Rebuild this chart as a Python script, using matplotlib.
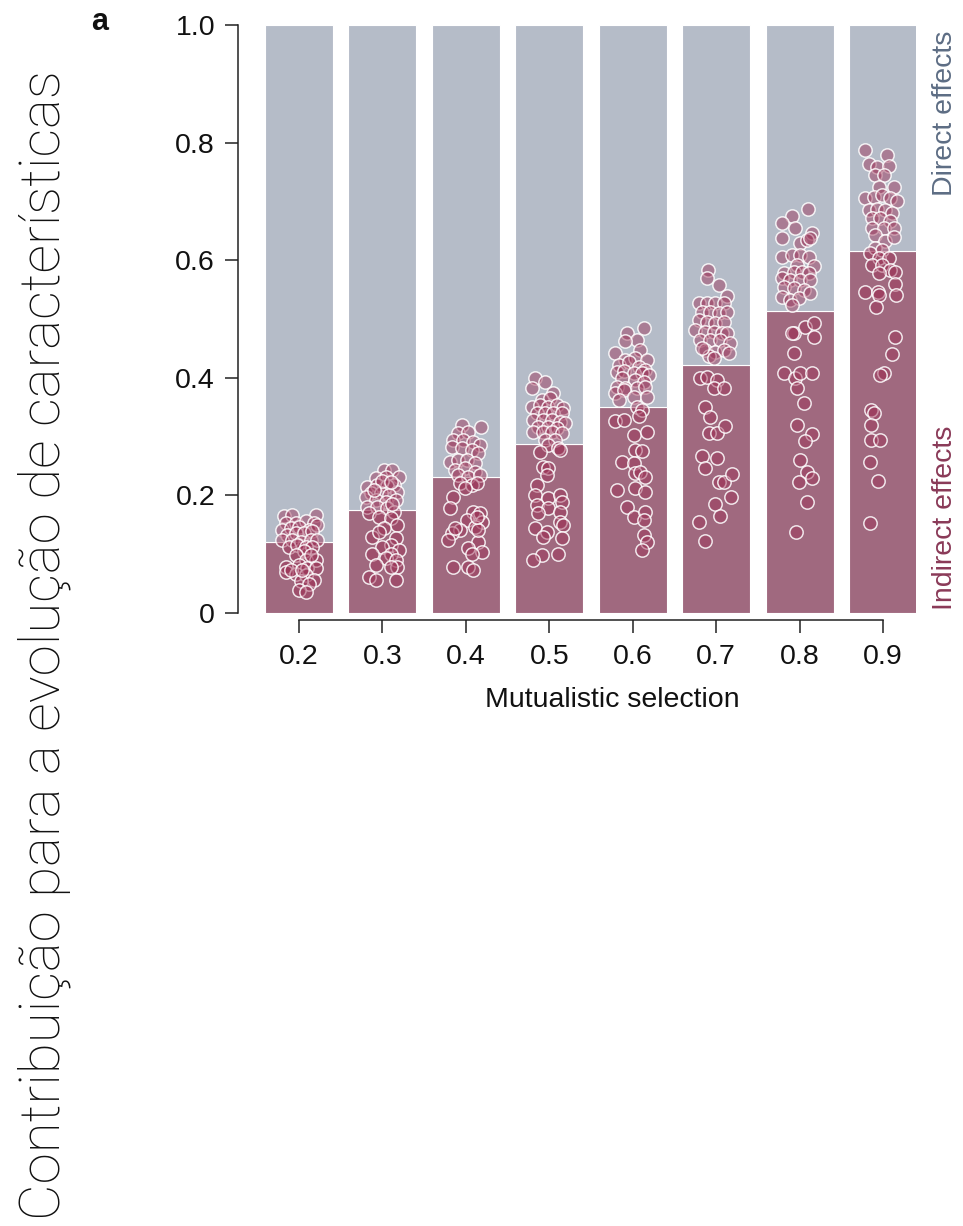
import numpy as np
import matplotlib
matplotlib.use("Agg")
import matplotlib.pyplot as plt
from matplotlib.colors import to_rgba

# Mutualistic selection strength and mean share of trait change due to indirect effects
selection = [0.2, 0.3, 0.4, 0.5, 0.6, 0.7, 0.8, 0.9]
tick_labels = ["0.2", "0.3", "0.4", "0.5", "0.6", "0.7", "0.8", "0.9"]
indirect_share = [0.121, 0.175, 0.231, 0.287, 0.350, 0.422, 0.513, 0.616]
y_ticks = [0, 0.2, 0.4, 0.6, 0.8, 1.0]
y_tick_labels = ["0", "0.2", "0.4", "0.6", "0.8", "1.0"]

# Individual network values (indirect share) and horizontal jitter per selection level
val_02 = [0.165, 0.166, 0.166, 0.153, 0.153, 0.157, 0.153, 0.142, 0.144, 0.147, 0.142, 0.150,
          0.133, 0.136, 0.136, 0.139, 0.124, 0.124, 0.121, 0.124, 0.124, 0.113, 0.116, 0.113,
          0.113, 0.106, 0.099, 0.090, 0.090, 0.079, 0.070, 0.082, 0.076, 0.076, 0.067, 0.065,
          0.056, 0.054, 0.050, 0.039, 0.036, 0.073, 0.099, 0.073]
jit_02 = [-0.018, -0.008, 0.020, -0.016, -0.004, 0.008, 0.018, -0.020, -0.010, 0.000, 0.012, 0.022,
          -0.014, -0.004, 0.006, 0.016, -0.020, -0.008, 0.002, 0.014, 0.022, -0.012, -0.002, 0.008,
          0.016, 0.006, -0.004, 0.008, 0.020, -0.016, -0.016, 0.000, 0.010, 0.020, -0.004, 0.008,
          0.018, 0.002, 0.012, 0.000, 0.008, -0.010, 0.014, 0.004]

val_03 = [0.243, 0.243, 0.231, 0.229, 0.232, 0.218, 0.215, 0.218, 0.216, 0.206, 0.204, 0.204,
          0.201, 0.198, 0.192, 0.189, 0.192, 0.181, 0.181, 0.178, 0.172, 0.170, 0.164, 0.161,
          0.150, 0.144, 0.130, 0.138, 0.127, 0.116, 0.113, 0.107, 0.101, 0.101, 0.093, 0.090,
          0.079, 0.082, 0.062, 0.056, 0.056, 0.079, 0.225, 0.222, 0.210, 0.185]
jit_03 = [0.002, 0.012, 0.020, -0.008, 0.004, 0.014, -0.018, -0.006, 0.006, 0.018, -0.014, -0.002,
          0.008, -0.020, -0.008, 0.004, 0.016, -0.018, -0.006, 0.006, 0.014, -0.016, -0.004, 0.010,
          0.018, 0.002, -0.012, -0.004, 0.016, 0.010, 0.000, 0.020, -0.012, 0.010, 0.004, 0.016,
          0.018, -0.008, -0.016, -0.008, 0.016, 0.010, 0.000, 0.010, -0.010, 0.012]

val_04 = [0.320, 0.317, 0.306, 0.308, 0.294, 0.294, 0.291, 0.286, 0.282, 0.280, 0.277, 0.272,
          0.256, 0.260, 0.260, 0.255, 0.243, 0.246, 0.240, 0.235, 0.232, 0.235, 0.221, 0.218,
          0.221, 0.212, 0.198, 0.178, 0.172, 0.170, 0.158, 0.155, 0.147, 0.141, 0.136, 0.124,
          0.121, 0.110, 0.104, 0.101, 0.078, 0.079, 0.073, 0.141, 0.144, 0.164]
jit_04 = [-0.005, 0.018, -0.009, 0.003, -0.015, -0.003, 0.009, 0.017, -0.017, -0.005, 0.007, 0.015,
          -0.019, -0.009, 0.001, 0.011, -0.013, -0.001, 0.011, -0.009, 0.003, 0.017, -0.007, 0.007,
          0.013, -0.001, -0.015, -0.019, 0.009, 0.017, 0.001, 0.019, 0.011, -0.007, -0.017, -0.021,
          0.015, 0.003, 0.019, 0.007, -0.015, 0.003, 0.009, 0.015, -0.013, 0.013]

val_05 = [0.399, 0.393, 0.382, 0.374, 0.362, 0.365, 0.351, 0.354, 0.351, 0.354, 0.348, 0.340,
          0.340, 0.340, 0.340, 0.328, 0.328, 0.328, 0.325, 0.323, 0.317, 0.317, 0.314, 0.308,
          0.308, 0.308, 0.306, 0.294, 0.294, 0.286, 0.280, 0.277, 0.274, 0.249, 0.246, 0.235,
          0.218, 0.201, 0.195, 0.201, 0.184, 0.178, 0.189, 0.170, 0.172, 0.155, 0.150, 0.144,
          0.138, 0.130, 0.127, 0.101, 0.099, 0.090]
jit_05 = [-0.017, -0.005, -0.021, 0.005, -0.009, 0.001, -0.021, -0.011, -0.001, 0.009, 0.017, -0.015,
          -0.005, 0.005, 0.015, -0.019, -0.007, 0.003, 0.013, 0.019, -0.013, -0.001, 0.009, -0.019,
          -0.007, 0.003, 0.015, -0.005, 0.007, -0.001, 0.011, 0.013, -0.011, -0.007, -0.001, -0.003,
          -0.015, -0.017, -0.001, 0.013, -0.015, -0.001, 0.015, -0.013, 0.013, 0.013, 0.017, -0.017,
          -0.003, -0.007, 0.015, 0.011, -0.009, -0.019]

val_06 = [0.484, 0.476, 0.465, 0.463, 0.448, 0.443, 0.430, 0.433, 0.430, 0.422, 0.427, 0.419,
          0.413, 0.410, 0.412, 0.408, 0.408, 0.405, 0.399, 0.396, 0.393, 0.385, 0.382, 0.382,
          0.385, 0.374, 0.379, 0.367, 0.367, 0.362, 0.351, 0.345, 0.335, 0.327, 0.329, 0.303,
          0.307, 0.278, 0.276, 0.257, 0.255, 0.238, 0.240, 0.232, 0.210, 0.212, 0.206, 0.181,
          0.164, 0.172, 0.158, 0.133, 0.121, 0.107]
jit_06 = [0.013, -0.007, 0.005, -0.009, 0.009, -0.021, -0.009, 0.003, 0.017, -0.017, -0.005, 0.007,
          0.015, -0.019, -0.011, 0.001, 0.011, 0.019, -0.013, 0.003, 0.013, -0.019, -0.009, 0.005,
          0.015, -0.021, -0.011, 0.001, 0.017, -0.017, 0.005, 0.011, 0.007, -0.021, -0.011, 0.001,
          0.017, 0.003, 0.011, -0.013, 0.001, 0.003, 0.009, 0.015, -0.019, 0.003, 0.015, -0.007,
          0.001, 0.015, 0.013, 0.013, 0.017, 0.011]

val_07 = [0.583, 0.569, 0.557, 0.539, 0.528, 0.528, 0.527, 0.527, 0.512, 0.512, 0.510, 0.512,
          0.498, 0.495, 0.493, 0.495, 0.481, 0.478, 0.478, 0.477, 0.476, 0.464, 0.464, 0.464,
          0.459, 0.447, 0.444, 0.447, 0.442, 0.437, 0.433, 0.450, 0.400, 0.402, 0.397, 0.382,
          0.382, 0.351, 0.334, 0.306, 0.306, 0.318, 0.267, 0.263, 0.247, 0.223, 0.223, 0.236,
          0.185, 0.197, 0.165, 0.154, 0.122]
jit_07 = [-0.010, -0.011, 0.003, 0.013, -0.021, -0.011, -0.001, 0.009, -0.017, -0.007, 0.003, 0.013,
          -0.021, -0.011, -0.001, 0.009, -0.025, -0.013, -0.003, 0.007, 0.013, -0.019, -0.007, 0.005,
          0.017, -0.013, -0.001, 0.009, 0.015, -0.009, -0.003, -0.017, -0.019, -0.011, 0.001, -0.003,
          0.010, -0.013, -0.007, -0.009, 0.001, 0.011, -0.017, 0.001, -0.013, 0.003, 0.009, 0.019,
          -0.001, 0.018, 0.005, -0.021, -0.013]

val_08 = [0.687, 0.675, 0.663, 0.654, 0.637, 0.646, 0.630, 0.634, 0.637, 0.606, 0.609, 0.609,
          0.606, 0.592, 0.590, 0.578, 0.580, 0.580, 0.578, 0.569, 0.566, 0.566, 0.566, 0.555,
          0.552, 0.549, 0.538, 0.533, 0.535, 0.544, 0.524, 0.477, 0.487, 0.494, 0.470, 0.477,
          0.443, 0.409, 0.399, 0.408, 0.409, 0.383, 0.357, 0.320, 0.304, 0.293, 0.261, 0.239,
          0.222, 0.229, 0.188, 0.137]
jit_08 = [0.010, -0.009, -0.021, -0.005, -0.021, 0.015, 0.001, 0.009, 0.013, -0.021, -0.009, 0.001,
          0.011, -0.003, 0.017, -0.019, -0.007, 0.003, 0.011, -0.021, -0.011, 0.001, 0.013, -0.019,
          -0.007, 0.005, -0.021, -0.011, -0.001, 0.013, -0.009, -0.007, 0.007, 0.017, 0.017, -0.009,
          -0.007, -0.019, -0.005, 0.001, 0.015, -0.003, 0.005, -0.003, 0.015, 0.007, 0.001, 0.009,
          -0.001, 0.015, 0.009, -0.004]

val_09 = [0.787, 0.779, 0.764, 0.759, 0.760, 0.745, 0.745, 0.725, 0.725, 0.705, 0.708, 0.711,
          0.705, 0.700, 0.685, 0.687, 0.685, 0.680, 0.671, 0.671, 0.666, 0.654, 0.654, 0.654,
          0.643, 0.632, 0.640, 0.620, 0.617, 0.612, 0.603, 0.603, 0.592, 0.592, 0.583, 0.580,
          0.578, 0.560, 0.546, 0.546, 0.541, 0.540, 0.521, 0.470, 0.440, 0.408, 0.405, 0.345,
          0.340, 0.320, 0.294, 0.294, 0.256, 0.224, 0.153]
jit_09 = [-0.022, 0.005, -0.017, -0.007, 0.007, -0.010, 0.001, -0.005, 0.013, -0.021, -0.011, -0.001,
          0.009, 0.017, -0.017, -0.007, 0.003, 0.011, -0.013, -0.003, 0.009, -0.013, 0.001, 0.013,
          -0.009, 0.003, 0.013, -0.009, -0.001, -0.015, -0.005, 0.007, -0.013, -0.001, 0.009, 0.015,
          -0.005, 0.015, -0.021, -0.006, -0.005, 0.016, -0.008, 0.014, 0.011, 0.001, -0.003, -0.014,
          -0.011, -0.014, -0.014, -0.003, -0.015, -0.006, -0.016]

point_values = [val_02, val_03, val_04, val_05, val_06, val_07, val_08, val_09]
point_jitter = [jit_02, jit_03, jit_04, jit_05, jit_06, jit_07, jit_08, jit_09]

# Colours
DIRECT_COLOR = "#b5bcc8"
INDIRECT_COLOR = "#a0697f"
POINT_FACE = to_rgba("#9c3055", 0.45)
POINT_EDGE = to_rgba("white", 0.85)
DIRECT_TEXT = "#5d6d84"
INDIRECT_TEXT = "#8a3a58"

SANS = ["Liberation Sans", "DejaVu Sans"]
plt.rcParams["font.family"] = SANS

W, H = 963, 1226
fig = plt.figure(figsize=(W / 100, H / 100), dpi=100)

ax_left, ax_right, ax_bottom, ax_top = 238, 916, 613, 25
ax = fig.add_axes([ax_left / W, 1 - ax_bottom / H,
                   (ax_right - ax_left) / W, (ax_bottom - ax_top) / H])

bar_width = 0.0815
direct_share = [1 - v for v in indirect_share]
ax.bar(selection, indirect_share, width=bar_width, color=INDIRECT_COLOR,
       edgecolor="white", linewidth=0.8, zorder=1)
ax.bar(selection, direct_share, bottom=indirect_share, width=bar_width,
       color=DIRECT_COLOR, edgecolor="white", linewidth=0.8, zorder=1)

for x0, vals, jit in zip(selection, point_values, point_jitter):
    xs = x0 + np.asarray(jit)
    ax.scatter(xs, vals, s=92, facecolor=POINT_FACE, edgecolor=POINT_EDGE,
               linewidth=1.1, zorder=3)

ax.set_xlim(0.1269, 0.9396)
ax.set_ylim(0, 1)

for side in ("top", "right"):
    ax.spines[side].set_visible(False)
ax.spines["bottom"].set_position(("outward", 5))
ax.spines["bottom"].set_bounds(0.2, 0.9)
for side in ("left", "bottom"):
    ax.spines[side].set_linewidth(1.1)
    ax.spines[side].set_color("#222222")

ax.set_xticks(selection)
ax.set_xticklabels(tick_labels)
ax.set_yticks(y_ticks)
ax.set_yticklabels(y_tick_labels)
ax.tick_params(axis="both", labelsize=20.5, width=1.1, length=9.5, color="#222222",
               labelcolor="#111111")
ax.tick_params(axis="x", pad=8)
ax.tick_params(axis="y", pad=7)

fig.text(612 / W, 1 - 700 / H, "Mutualistic selection", ha="center", va="center",
         fontsize=20.5, color="#111111")

ax.text(1.043, 0.99, "Direct effects", transform=ax.transAxes, rotation=90,
        ha="center", va="top", fontsize=20.5, color=DIRECT_TEXT)
ax.text(1.043, 0.005, "Indirect effects", transform=ax.transAxes, rotation=90,
        ha="center", va="bottom", fontsize=20.5, color=INDIRECT_TEXT)

fig.text(100 / W, 1 - 22 / H, "a", ha="center", va="center", fontsize=22,
         fontweight="bold", color="#111111")

fig.text(44 / W, 1 - 645 / H, "Contribuição para a evolução de características",
         rotation=90, ha="center", va="center", fontsize=40.6,
         family=["Roboto", "DejaVu Sans"], fontweight="light", color="#111111")

fig.savefig("out.png", dpi=100)
